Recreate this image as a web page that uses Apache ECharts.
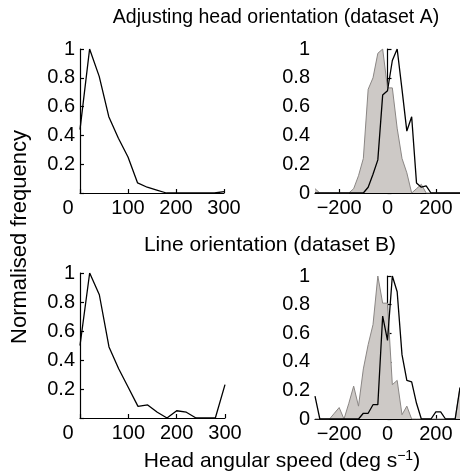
<!DOCTYPE html>
<html>
<head>
<meta charset="utf-8">
<script src="https://cdn.jsdelivr.net/npm/echarts@6/dist/echarts.min.js"></script>
<style>
html,body{margin:0;padding:0;background:#fff;}
#chart{width:460px;height:474px;}
</style>
</head>
<body>
<div id="chart"></div>
<script>
// ---- data ----
var titleA = 'Adjusting head orientation (dataset A)';
var titleB = 'Line orientation (dataset B)';
var yName = 'Normalised frequency';
var xNameMain = 'Head angular speed (deg s';
var xNameSup = '\u22121';

var xLeft = [0,20,40,60,80,100,120,140,160,180,200,220,240,260,280,300];
var xRight = [-300,-280,-260,-240,-220,-200,-180,-160,-140,-120,-100,-80,-60,-40,-20,0,
              20,40,60,80,100,120,140,160,180,200,220,240,260,280,300];

var speedA = [0.44,1.0,0.81,0.53,0.38,0.25,0.07,0.04,0.02,0,0,0,0,0,0,0.01];
var speedB = [0.50,1.0,0.85,0.49,0.34,0.21,0.08,0.09,0.04,0,0.05,0.04,0,0,0,0.23];

var greyA  = [0.03,0,0,0,0,0,0,0,0.03,0.12,0.24,0.72,0.80,0.97,1.0,0.73,
              0.73,0.45,0.24,0.14,0,0.03,0.06,0,0,0,0,0,0,0,0];
var blackA = [0,0,0,0,0,0,0,0,0,0,0,0.04,0.13,0.23,0.68,0.71,
              0.92,1.0,0.72,0.43,0.53,0.07,0.04,0.05,0,0,0,0,0,0,0];

var greyB  = [0,0,0,0,0.04,0.08,0,0.11,0.23,0.09,0.35,0.52,0.66,1.0,0.81,0.81,
              0.24,0.27,0.03,0.09,0,0,0,0,0,0,0,0,0,0,0.22];
var blackB = [0.16,0,0,0,0,0,0,0,0,0,0.04,0.04,0.10,0.10,0.72,0.55,
              1.0,0.89,0.45,0.27,0.26,0.11,0,0,0,0.05,0.05,0,0,0,0.22];

var leftTicks = [0,100,200,300];
var rightTicks = [-200,0,200];

// ---- helpers ----
function pairs(xs, ys){ return xs.map(function(x,i){ return [x, ys[i]]; }); }
var FONT = '"Liberation Sans", Arial, Helvetica, sans-serif';
var TICK_FS = 20;
var GREY_FILL = '#cdc9c6';
var GREY_LINE = '#8a8684';

var grids = [
  {left:80,  top:49,  width:144, height:144},
  {left:315, top:49,  width:147, height:144},
  {left:80,  top:273, width:145, height:145},
  {left:315, top:276, width:147, height:143}
];

function xAxisDef(idx, isLeft){
  return {
    type:'value', gridIndex: idx,
    min: isLeft ? 0 : -300, max: 300, interval: 100,
    splitLine:{show:false},
    axisLine:{show:true, onZero:false, lineStyle:{color:'#000', width:1.2}},
    axisTick:{show:true, inside:true, length:4, lineStyle:{color:'#000', width:1.2},
              customValues: isLeft ? leftTicks : rightTicks},
    axisLabel:{
      color:'#000', fontSize:TICK_FS, fontFamily:FONT, margin:5,
      customValues: isLeft ? leftTicks : rightTicks,
      formatter: function(v){
        if (isLeft && v === 0) return '{z|0}';
        return String(v).replace('-', '\u2212');
      },
      rich:{ z:{fontSize:TICK_FS, fontFamily:FONT, color:'#000', padding:[0,24,0,0]} }
    }
  };
}
function yAxisDef(idx, isLeft){
  return {
    type:'value', gridIndex: idx, min:0, max:1, interval:0.2,
    splitLine:{show:false},
    axisLine:{show:true, lineStyle:{color:'#000', width:1.2}},
    axisTick:{show:true, inside:true, length:4, lineStyle:{color:'#000', width:1.2}},
    axisLabel:{
      color:'#000', fontSize:TICK_FS, fontFamily:FONT, margin:5,
      formatter: function(v){
        if (isLeft && v === 0) return '';
        return String(Math.round(v*10)/10);
      }
    }
  };
}

var chart = echarts.init(document.getElementById('chart'), null, {renderer:'canvas'});
var option = {
  animation:false,
  backgroundColor:'#fff',
  grid: grids,
  xAxis: [xAxisDef(0,true), xAxisDef(1,false), xAxisDef(2,true), xAxisDef(3,false)],
  yAxis: [yAxisDef(0,true), yAxisDef(1,false), yAxisDef(2,true), yAxisDef(3,false)],
  series: [
    {type:'line', xAxisIndex:0, yAxisIndex:0, data:pairs(xLeft, speedA), symbol:'none',
     lineStyle:{color:'#000', width:1.3}},
    {type:'line', xAxisIndex:1, yAxisIndex:1, data:pairs(xRight, greyA), symbol:'none',
     lineStyle:{color:GREY_LINE, width:1}, areaStyle:{color:GREY_FILL, opacity:1}},
    {type:'line', xAxisIndex:1, yAxisIndex:1, data:pairs(xRight, blackA), symbol:'none',
     lineStyle:{color:'#000', width:1.3}},
    {type:'line', xAxisIndex:2, yAxisIndex:2, data:pairs(xLeft, speedB), symbol:'none',
     lineStyle:{color:'#000', width:1.3}},
    {type:'line', xAxisIndex:3, yAxisIndex:3, data:pairs(xRight, greyB), symbol:'none',
     lineStyle:{color:GREY_LINE, width:1}, areaStyle:{color:GREY_FILL, opacity:1}},
    {type:'line', xAxisIndex:3, yAxisIndex:3, data:pairs(xRight, blackB), symbol:'none',
     lineStyle:{color:'#000', width:1.3}}
  ],
  graphic: [
    {type:'text', x:276, y:18, style:{text:titleA, fill:'#000', font:'19.5px '+FONT, align:'center', verticalAlign:'middle'}},
    {type:'text', x:270, y:245, style:{text:titleB, fill:'#000', font:'21px '+FONT, align:'center', verticalAlign:'middle'}},
    {type:'text', x:20, y:237, rotation:Math.PI/2, style:{text:yName, fill:'#000', font:'22px '+FONT, align:'center', verticalAlign:'middle'}},
    {type:'text', x:282, y:461, style:{
      text:'{m|'+xNameMain+'}{s|'+xNameSup+'}{m|)}', align:'center', verticalAlign:'middle',
      rich:{
        m:{fontSize:21, fontFamily:FONT, fill:'#000', color:'#000'},
        s:{fontSize:14, fontFamily:FONT, fill:'#000', color:'#000', padding:[0,0,10,0]}
      }
    }}
  ]
};
chart.setOption(option);
</script>
</body>
</html>
